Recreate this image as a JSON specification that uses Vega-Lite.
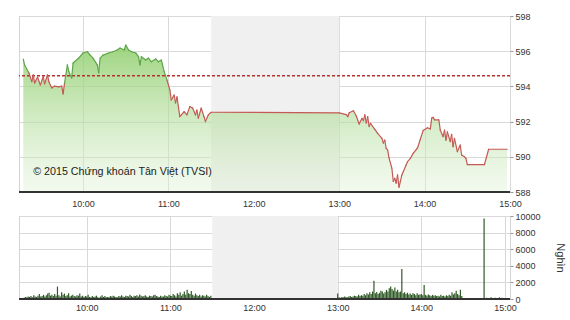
{
  "$schema": "https://vega.github.io/schema/vega-lite/v6.json",
  "background": "white",
  "padding": {"left": 17, "top": 11, "right": 0, "bottom": 0},
  "bounds": "flush",
  "spacing": 24,
  "config": {
    "font": "Liberation Sans",
    "view": {"stroke": "#d4d4d4"},
    "axis": {"gridColor": "#d9d9d9", "labelColor": "#333333", "labelFontSize": 9, "domainColor": "#333333", "tickColor": "#999999", "titleFontWeight": "normal", "titleColor": "#333333", "labelOverlap": false}
  },
  "datasets": {
    "shade": [{"a": "11:30", "b": "13:00"}],
    "price": [
      {"t": "09:18", "p": 595.55}, {"t": "09:19", "p": 595.2}, {"t": "09:22", "p": 594.76}, {"t": "09:24", "p": 594.27},
      {"t": "09:25", "p": 594.65}, {"t": "09:26", "p": 594.19}, {"t": "09:28", "p": 594.53}, {"t": "09:30", "p": 594.08},
      {"t": "09:32", "p": 594.55}, {"t": "09:33", "p": 594.14}, {"t": "09:35", "p": 594.65}, {"t": "09:36", "p": 594.27},
      {"t": "09:38", "p": 593.91}, {"t": "09:40", "p": 594.02}, {"t": "09:43", "p": 593.97}, {"t": "09:45", "p": 594.02},
      {"t": "09:46", "p": 593.57}, {"t": "09:47", "p": 594.19}, {"t": "09:49", "p": 595.22}, {"t": "09:50", "p": 594.84},
      {"t": "09:52", "p": 594.48}, {"t": "09:53", "p": 595.33}, {"t": "09:57", "p": 595.61}, {"t": "10:00", "p": 595.9},
      {"t": "10:03", "p": 595.97}, {"t": "10:05", "p": 595.78}, {"t": "10:07", "p": 595.61}, {"t": "10:10", "p": 595.22},
      {"t": "10:11", "p": 594.78}, {"t": "10:12", "p": 595.61}, {"t": "10:14", "p": 595.78}, {"t": "10:18", "p": 595.9},
      {"t": "10:21", "p": 595.97}, {"t": "10:24", "p": 596.07}, {"t": "10:26", "p": 596.18}, {"t": "10:29", "p": 596.07},
      {"t": "10:30", "p": 596.35}, {"t": "10:32", "p": 596.07}, {"t": "10:34", "p": 595.97}, {"t": "10:37", "p": 595.9},
      {"t": "10:39", "p": 595.69}, {"t": "10:40", "p": 595.22}, {"t": "10:41", "p": 595.69}, {"t": "10:44", "p": 595.5},
      {"t": "10:46", "p": 595.61}, {"t": "10:48", "p": 595.4}, {"t": "10:51", "p": 595.56}, {"t": "10:53", "p": 595.4},
      {"t": "10:55", "p": 595.5}, {"t": "10:57", "p": 594.84}, {"t": "10:59", "p": 594.36}, {"t": "11:01", "p": 593.8},
      {"t": "11:02", "p": 593.23}, {"t": "11:04", "p": 593.51}, {"t": "11:05", "p": 593.06}, {"t": "11:06", "p": 593.41},
      {"t": "11:07", "p": 592.85}, {"t": "11:08", "p": 592.28}, {"t": "11:11", "p": 592.56}, {"t": "11:13", "p": 592.38},
      {"t": "11:15", "p": 592.85}, {"t": "11:17", "p": 592.77}, {"t": "11:19", "p": 592.38}, {"t": "11:20", "p": 592.66},
      {"t": "11:21", "p": 592.2}, {"t": "11:23", "p": 592.77}, {"t": "11:25", "p": 592.28}, {"t": "11:26", "p": 592.0},
      {"t": "11:28", "p": 592.38}, {"t": "11:30", "p": 592.53}, {"t": "13:00", "p": 592.5}, {"t": "13:05", "p": 592.4},
      {"t": "13:06", "p": 592.28}, {"t": "13:07", "p": 592.5}, {"t": "13:10", "p": 592.62}, {"t": "13:12", "p": 592.32},
      {"t": "13:14", "p": 591.86}, {"t": "13:16", "p": 592.19}, {"t": "13:17", "p": 592.05}, {"t": "13:18", "p": 592.38},
      {"t": "13:19", "p": 591.92}, {"t": "13:20", "p": 592.28}, {"t": "13:21", "p": 591.72}, {"t": "13:22", "p": 591.9},
      {"t": "13:25", "p": 591.56}, {"t": "13:27", "p": 591.33}, {"t": "13:30", "p": 591.05}, {"t": "13:31", "p": 590.78},
      {"t": "13:32", "p": 590.95}, {"t": "13:33", "p": 590.48}, {"t": "13:34", "p": 590.39}, {"t": "13:35", "p": 589.94},
      {"t": "13:37", "p": 589.35}, {"t": "13:38", "p": 588.6}, {"t": "13:39", "p": 588.78}, {"t": "13:40", "p": 588.5},
      {"t": "13:41", "p": 588.97}, {"t": "13:42", "p": 588.27}, {"t": "13:43", "p": 588.6}, {"t": "13:44", "p": 588.97},
      {"t": "13:45", "p": 589.15}, {"t": "13:47", "p": 589.53}, {"t": "13:48", "p": 589.72}, {"t": "13:50", "p": 589.91},
      {"t": "13:52", "p": 590.2}, {"t": "13:55", "p": 590.5}, {"t": "13:57", "p": 591.0}, {"t": "13:59", "p": 591.5},
      {"t": "14:02", "p": 591.65}, {"t": "14:04", "p": 591.58}, {"t": "14:05", "p": 592.2}, {"t": "14:06", "p": 592.24},
      {"t": "14:07", "p": 592.1}, {"t": "14:10", "p": 592.1}, {"t": "14:11", "p": 591.52}, {"t": "14:13", "p": 591.14},
      {"t": "14:14", "p": 591.52}, {"t": "14:15", "p": 590.95}, {"t": "14:16", "p": 591.42}, {"t": "14:18", "p": 590.86},
      {"t": "14:19", "p": 591.28}, {"t": "14:20", "p": 590.57}, {"t": "14:21", "p": 591.05}, {"t": "14:23", "p": 590.29},
      {"t": "14:25", "p": 590.67}, {"t": "14:26", "p": 590.1}, {"t": "14:28", "p": 590.0}, {"t": "14:29", "p": 589.91},
      {"t": "14:30", "p": 589.55}, {"t": "14:42", "p": 589.55}, {"t": "14:45", "p": 590.43}, {"t": "14:58", "p": 590.43}
    ],
    "vol": [
      {"t": "09:15", "v": 150}, {"t": "09:16", "v": 250}, {"t": "09:17", "v": 200}, {"t": "09:18", "v": 300}, {"t": "09:19", "v": 250},
      {"t": "09:20", "v": 350}, {"t": "09:21", "v": 200}, {"t": "09:22", "v": 450}, {"t": "09:23", "v": 300}, {"t": "09:24", "v": 250},
      {"t": "09:25", "v": 400}, {"t": "09:26", "v": 600}, {"t": "09:27", "v": 300}, {"t": "09:28", "v": 350}, {"t": "09:29", "v": 500},
      {"t": "09:30", "v": 300}, {"t": "09:31", "v": 450}, {"t": "09:32", "v": 650}, {"t": "09:33", "v": 750}, {"t": "09:34", "v": 400},
      {"t": "09:35", "v": 500}, {"t": "09:36", "v": 350}, {"t": "09:37", "v": 600}, {"t": "09:38", "v": 400}, {"t": "09:39", "v": 1500},
      {"t": "09:40", "v": 450}, {"t": "09:41", "v": 300}, {"t": "09:42", "v": 800}, {"t": "09:43", "v": 500}, {"t": "09:44", "v": 650},
      {"t": "09:45", "v": 350}, {"t": "09:46", "v": 450}, {"t": "09:47", "v": 700}, {"t": "09:48", "v": 300}, {"t": "09:49", "v": 400},
      {"t": "09:50", "v": 500}, {"t": "09:51", "v": 350}, {"t": "09:52", "v": 300}, {"t": "09:53", "v": 450}, {"t": "09:54", "v": 400},
      {"t": "09:55", "v": 650}, {"t": "09:56", "v": 300}, {"t": "09:57", "v": 400}, {"t": "09:58", "v": 250}, {"t": "09:59", "v": 350},
      {"t": "10:00", "v": 300}, {"t": "10:01", "v": 500}, {"t": "10:02", "v": 250}, {"t": "10:03", "v": 200}, {"t": "10:04", "v": 350},
      {"t": "10:05", "v": 250}, {"t": "10:06", "v": 300}, {"t": "10:07", "v": 400}, {"t": "10:08", "v": 200}, {"t": "10:09", "v": 150},
      {"t": "10:10", "v": 300}, {"t": "10:11", "v": 450}, {"t": "10:12", "v": 250}, {"t": "10:13", "v": 350}, {"t": "10:14", "v": 200},
      {"t": "10:15", "v": 250}, {"t": "10:16", "v": 200}, {"t": "10:17", "v": 350}, {"t": "10:18", "v": 300}, {"t": "10:19", "v": 400},
      {"t": "10:20", "v": 300}, {"t": "10:21", "v": 250}, {"t": "10:22", "v": 200}, {"t": "10:23", "v": 350}, {"t": "10:24", "v": 300},
      {"t": "10:25", "v": 450}, {"t": "10:26", "v": 300}, {"t": "10:27", "v": 250}, {"t": "10:28", "v": 400}, {"t": "10:29", "v": 350},
      {"t": "10:30", "v": 300}, {"t": "10:31", "v": 500}, {"t": "10:32", "v": 350}, {"t": "10:33", "v": 250}, {"t": "10:34", "v": 400},
      {"t": "10:35", "v": 350}, {"t": "10:36", "v": 450}, {"t": "10:37", "v": 300}, {"t": "10:38", "v": 550}, {"t": "10:39", "v": 400},
      {"t": "10:40", "v": 300}, {"t": "10:41", "v": 350}, {"t": "10:42", "v": 450}, {"t": "10:43", "v": 300}, {"t": "10:44", "v": 250},
      {"t": "10:45", "v": 400}, {"t": "10:46", "v": 350}, {"t": "10:47", "v": 300}, {"t": "10:48", "v": 450}, {"t": "10:49", "v": 500},
      {"t": "10:50", "v": 350}, {"t": "10:51", "v": 300}, {"t": "10:52", "v": 250}, {"t": "10:53", "v": 400}, {"t": "10:54", "v": 300},
      {"t": "10:55", "v": 300}, {"t": "10:56", "v": 450}, {"t": "10:57", "v": 350}, {"t": "10:58", "v": 300}, {"t": "10:59", "v": 500},
      {"t": "11:00", "v": 400}, {"t": "11:01", "v": 350}, {"t": "11:02", "v": 600}, {"t": "11:03", "v": 450}, {"t": "11:04", "v": 300},
      {"t": "11:05", "v": 700}, {"t": "11:06", "v": 500}, {"t": "11:07", "v": 800}, {"t": "11:08", "v": 400}, {"t": "11:09", "v": 600},
      {"t": "11:10", "v": 900}, {"t": "11:11", "v": 500}, {"t": "11:12", "v": 1100}, {"t": "11:13", "v": 700}, {"t": "11:14", "v": 600},
      {"t": "11:15", "v": 950}, {"t": "11:16", "v": 500}, {"t": "11:17", "v": 400}, {"t": "11:18", "v": 650}, {"t": "11:19", "v": 450},
      {"t": "11:20", "v": 350}, {"t": "11:21", "v": 500}, {"t": "11:22", "v": 300}, {"t": "11:23", "v": 450}, {"t": "11:24", "v": 400},
      {"t": "11:25", "v": 300}, {"t": "11:26", "v": 500}, {"t": "11:27", "v": 350}, {"t": "11:28", "v": 250}, {"t": "11:29", "v": 400},
      {"t": "13:00", "v": 650}, {"t": "13:01", "v": 200}, {"t": "13:02", "v": 150}, {"t": "13:03", "v": 250}, {"t": "13:04", "v": 200},
      {"t": "13:05", "v": 300}, {"t": "13:06", "v": 250}, {"t": "13:07", "v": 200}, {"t": "13:08", "v": 300}, {"t": "13:09", "v": 350},
      {"t": "13:10", "v": 250}, {"t": "13:11", "v": 300}, {"t": "13:12", "v": 400}, {"t": "13:13", "v": 350}, {"t": "13:14", "v": 300},
      {"t": "13:15", "v": 500}, {"t": "13:16", "v": 350}, {"t": "13:17", "v": 450}, {"t": "13:18", "v": 400}, {"t": "13:19", "v": 600},
      {"t": "13:20", "v": 450}, {"t": "13:21", "v": 700}, {"t": "13:22", "v": 550}, {"t": "13:23", "v": 800}, {"t": "13:24", "v": 600},
      {"t": "13:25", "v": 900}, {"t": "13:26", "v": 2200}, {"t": "13:27", "v": 700}, {"t": "13:28", "v": 850}, {"t": "13:29", "v": 600},
      {"t": "13:30", "v": 750}, {"t": "13:31", "v": 1000}, {"t": "13:32", "v": 900}, {"t": "13:33", "v": 650}, {"t": "13:34", "v": 800},
      {"t": "13:35", "v": 1100}, {"t": "13:36", "v": 900}, {"t": "13:37", "v": 1300}, {"t": "13:38", "v": 1500}, {"t": "13:39", "v": 1200},
      {"t": "13:40", "v": 1000}, {"t": "13:41", "v": 1400}, {"t": "13:42", "v": 900}, {"t": "13:43", "v": 1100}, {"t": "13:44", "v": 800},
      {"t": "13:45", "v": 900}, {"t": "13:46", "v": 3600}, {"t": "13:47", "v": 700}, {"t": "13:48", "v": 800}, {"t": "13:49", "v": 600},
      {"t": "13:50", "v": 750}, {"t": "13:51", "v": 550}, {"t": "13:52", "v": 650}, {"t": "13:53", "v": 500}, {"t": "13:54", "v": 700},
      {"t": "13:55", "v": 600}, {"t": "13:56", "v": 450}, {"t": "13:57", "v": 700}, {"t": "13:58", "v": 500}, {"t": "13:59", "v": 550},
      {"t": "14:00", "v": 600}, {"t": "14:01", "v": 450}, {"t": "14:02", "v": 1700}, {"t": "14:03", "v": 500}, {"t": "14:04", "v": 400},
      {"t": "14:05", "v": 550}, {"t": "14:06", "v": 450}, {"t": "14:07", "v": 350}, {"t": "14:08", "v": 500}, {"t": "14:09", "v": 400},
      {"t": "14:10", "v": 450}, {"t": "14:11", "v": 350}, {"t": "14:12", "v": 400}, {"t": "14:13", "v": 300}, {"t": "14:14", "v": 500},
      {"t": "14:15", "v": 350}, {"t": "14:16", "v": 400}, {"t": "14:17", "v": 300}, {"t": "14:18", "v": 450}, {"t": "14:19", "v": 350},
      {"t": "14:20", "v": 500}, {"t": "14:21", "v": 400}, {"t": "14:22", "v": 800}, {"t": "14:23", "v": 550}, {"t": "14:24", "v": 700},
      {"t": "14:25", "v": 1000}, {"t": "14:26", "v": 600}, {"t": "14:27", "v": 450}, {"t": "14:28", "v": 1100}, {"t": "14:29", "v": 350},
      {"t": "14:33", "v": 100}, {"t": "14:38", "v": 100}, {"t": "14:42", "v": 100}, {"t": "14:45", "v": 9700},
      {"t": "14:47", "v": 150}, {"t": "14:50", "v": 200}, {"t": "14:53", "v": 150}, {"t": "14:56", "v": 200}, {"t": "14:58", "v": 150}
    ],
    "note": [{"t": "09:25", "p": 589.15, "s": "© 2015 Chứng khoán Tân Việt (TVSI)"}]
  },
  "vconcat": [
    {
      "width": 491,
      "height": 176,
      "layer": [
        {
          "data": {"name": "shade"},
          "transform": [
            {"calculate": "parseInt(substring(datum.a,0,2))*60 + parseInt(substring(datum.a,3,5))", "as": "ma"},
            {"calculate": "parseInt(substring(datum.b,0,2))*60 + parseInt(substring(datum.b,3,5))", "as": "mb"}
          ],
          "mark": {"type": "rect", "color": "#f0f0f0"},
          "encoding": {
            "x": {"field": "ma", "type": "quantitative",
              "scale": {"domain": [555, 900], "nice": false, "zero": false},
              "axis": {"orient": "bottom", "title": null, "values": [600, 660, 720, 780, 840, 900], "labelExpr": "floor(datum.value / 60) + ':00'", "grid": true, "ticks": false, "domain": false, "labelPadding": 7, "labelFlush": false}},
            "x2": {"field": "mb"},
            "y": {"datum": 598, "type": "quantitative",
              "scale": {"domain": [588, 598], "zero": false, "nice": false},
              "axis": {"orient": "right", "title": null, "tickCount": 5, "grid": true, "domain": false, "tickSize": 3, "labelPadding": 2, "labelOverlap": false}},
            "y2": {"datum": 588}
          }
        },
        {
          "data": {"name": "price"},
          "transform": [{"calculate": "parseInt(substring(datum.t,0,2))*60 + parseInt(substring(datum.t,3,5))", "as": "m"}],
          "mark": {"type": "area", "color": {"gradient": "linear", "x1": 0, "y1": 0, "x2": 0, "y2": 1, "stops": [{"offset": 0, "color": "rgba(140,205,105,0.85)"}, {"offset": 1, "color": "rgba(225,242,215,0.4)"}]}},
          "encoding": {
            "x": {"field": "m", "type": "quantitative"},
            "y": {"field": "p", "type": "quantitative"},
            "y2": {"datum": 588}
          }
        },
        {
          "data": {"name": "shade"},
          "mark": {"type": "rule", "color": "#b5322e", "strokeDash": [3, 2], "strokeWidth": 1.5},
          "encoding": {"y": {"datum": 594.6, "type": "quantitative"}}
        },
        {
          "data": {"name": "price"},
          "transform": [
            {"calculate": "parseInt(substring(datum.t,0,2))*60 + parseInt(substring(datum.t,3,5))", "as": "m"},
            {"window": [{"op": "lead", "field": "m", "as": "m2"}, {"op": "lead", "field": "p", "as": "p2"}], "sort": [{"field": "m"}]},
            {"filter": "datum.p2 != null"}
          ],
          "mark": {"type": "rule", "strokeWidth": 1.2, "strokeCap": "round"},
          "encoding": {
            "x": {"field": "m", "type": "quantitative"},
            "x2": {"field": "m2"},
            "y": {"field": "p", "type": "quantitative"},
            "y2": {"field": "p2"},
            "color": {"condition": {"test": "(datum.p + datum.p2) / 2 >= 594.6", "value": "#5ea548"}, "value": "#c45a55"}
          }
        },
        {
          "data": {"name": "shade"},
          "mark": {"type": "rule", "color": "#333333", "strokeWidth": 2},
          "encoding": {"y": {"datum": 588, "type": "quantitative"}}
        },
        {
          "data": {"name": "note"},
          "transform": [{"calculate": "parseInt(substring(datum.t,0,2))*60 + parseInt(substring(datum.t,3,5))", "as": "m"}],
          "mark": {"type": "text", "align": "left", "baseline": "middle", "fontSize": 10.7, "color": "#222222"},
          "encoding": {
            "x": {"field": "m", "type": "quantitative"},
            "y": {"field": "p", "type": "quantitative"},
            "text": {"field": "s"}
          }
        }
      ]
    },
    {
      "width": 491,
      "height": 83,
      "layer": [
        {
          "data": {"name": "shade"},
          "transform": [
            {"calculate": "parseInt(substring(datum.a,0,2))*60 + parseInt(substring(datum.a,3,5))", "as": "ma"},
            {"calculate": "parseInt(substring(datum.b,0,2))*60 + parseInt(substring(datum.b,3,5))", "as": "mb"}
          ],
          "mark": {"type": "rect", "color": "#f0f0f0"},
          "encoding": {
            "x": {"field": "ma", "type": "quantitative",
              "scale": {"domain": [555, 900], "nice": false, "zero": false},
              "axis": {"orient": "bottom", "title": null, "values": [600, 660, 720, 780, 840, 900], "labelExpr": "floor(datum.value / 60) + ':00'", "grid": true, "ticks": false, "domain": false, "labelPadding": 4, "labelFlush": false}},
            "x2": {"field": "mb"},
            "y": {"datum": 10000, "type": "quantitative",
              "scale": {"domain": [0, 10000], "nice": false},
              "axis": {"orient": "right", "title": "Nghìn", "titleAngle": 90, "tickCount": 5, "format": "d", "grid": true, "domain": false, "tickSize": 3, "labelPadding": 2, "labelOverlap": false, "titleFontSize": 11, "titlePadding": 14}},
            "y2": {"datum": 0}
          }
        },
        {
          "data": {"name": "vol"},
          "transform": [{"calculate": "parseInt(substring(datum.t,0,2))*60 + parseInt(substring(datum.t,3,5))", "as": "m"}],
          "mark": {"type": "bar", "width": 1.2, "color": "#2f5a26"},
          "encoding": {
            "x": {"field": "m", "type": "quantitative"},
            "y": {"field": "v", "type": "quantitative"}
          }
        },
        {
          "data": {"name": "shade"},
          "mark": {"type": "rule", "color": "#333333", "strokeWidth": 2},
          "encoding": {"y": {"datum": 0, "type": "quantitative"}}
        }
      ]
    }
  ]
}
